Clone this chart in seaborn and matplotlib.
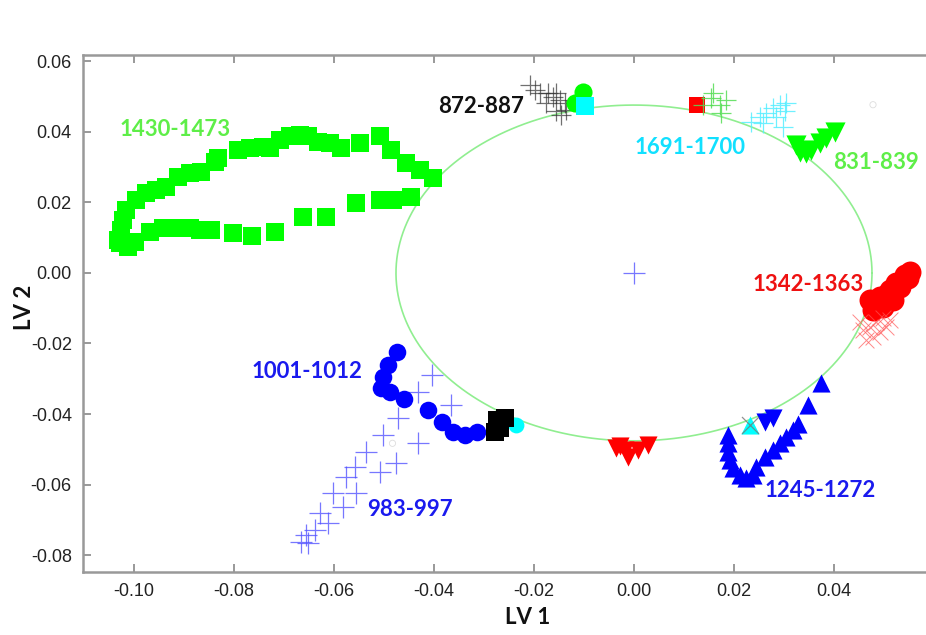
import numpy as np
import pandas as pd
import matplotlib
matplotlib.use("Agg")
import matplotlib.pyplot as plt
import seaborn as sns

# ---------------- data ----------------
# 1430-1473 : green squares
sq_green_x = [-0.1032, -0.1025, -0.1021, -0.1015, -0.0995, -0.0975, -0.0955, -0.0935, -0.0911,
              -0.0888, -0.0865, -0.0838, -0.0831, -0.0791, -0.0768, -0.0741, -0.0728, -0.0708,
              -0.0688, -0.0668, -0.0651, -0.0631, -0.0608, -0.0585, -0.0548, -0.0508, -0.0485,
              -0.0455, -0.0428, -0.0401,
              -0.1028, -0.1011, -0.0998, -0.0968, -0.0941, -0.0915, -0.0888, -0.0868, -0.0845,
              -0.0801, -0.0763, -0.0718, -0.0661, -0.0615, -0.0556, -0.0508, -0.0481, -0.0445]
sq_green_y = [0.0094, 0.0122, 0.0150, 0.0179, 0.0207, 0.0227, 0.0235, 0.0245, 0.0273,
              0.0284, 0.0287, 0.0316, 0.0325, 0.0349, 0.0354, 0.0358, 0.0354, 0.0377,
              0.0387, 0.0391, 0.0387, 0.0372, 0.0368, 0.0354, 0.0368, 0.0387, 0.0349,
              0.0311, 0.0292, 0.0269,
              0.0085, 0.0075, 0.0089, 0.0117, 0.0127, 0.0127, 0.0127, 0.0122, 0.0122,
              0.0113, 0.0105, 0.0117, 0.0160, 0.0160, 0.0199, 0.0207, 0.0207, 0.0216]

# 1001-1012 : blue circles
ci_blue_x = [-0.0473, -0.0491, -0.0501, -0.0505, -0.0488, -0.0459, -0.0411, -0.0383, -0.0361, -0.0337, -0.0313]
ci_blue_y = [-0.0223, -0.0261, -0.0294, -0.0327, -0.0337, -0.0358, -0.0389, -0.0422, -0.0450, -0.0460, -0.0450]

# 983-997 : blue plus
pl_blue_x = [-0.0403, -0.0431, -0.0365, -0.0471, -0.0501, -0.0431, -0.0535, -0.0475, -0.0508, -0.0558,
             -0.0575, -0.0555, -0.0601, -0.0581, -0.0628, -0.0611, -0.0638, -0.0655, -0.0665, -0.0651, 0.0]
pl_blue_y = [-0.0289, -0.0337, -0.0374, -0.0412, -0.0460, -0.0483, -0.0507, -0.0540, -0.0564, -0.0549,
             -0.0578, -0.0625, -0.0625, -0.0663, -0.0682, -0.0710, -0.0729, -0.0743, -0.0762, -0.0767, 0.0]

# black squares near the circle (bottom left)
sq_black_x = [-0.0274, -0.0258, -0.0268, -0.0278]
sq_black_y = [-0.0417, -0.0411, -0.0440, -0.0451]

# cyan circle / square / triangle
ci_cyan_x = [-0.0235]
ci_cyan_y = [-0.0431]
sq_cyan_x = [-0.0098]
sq_cyan_y = [0.0472]
tu_cyan_x = [0.0232]
tu_cyan_y = [-0.0431]

# 872-887 : black plus
pl_black_x = [-0.0208, -0.0198, -0.0188, -0.0171, -0.0161, -0.0155, -0.0148, -0.0175, -0.0138, -0.0155, -0.0145, -0.0135]
pl_black_y = [0.0533, 0.0519, 0.0510, 0.0510, 0.0500, 0.0510, 0.0491, 0.0481, 0.0481, 0.0458, 0.0448, 0.0462]

# green circles near top
ci_green_x = [-0.0102, -0.0118]
ci_green_y = [0.0513, 0.0482]

# red square + green plus near top
sq_red_x = [0.0127]
sq_red_y = [0.0477]
pl_green_x = [0.0139, 0.0155, 0.0159, 0.0172, 0.0185, 0.0175]
pl_green_y = [0.0477, 0.0496, 0.0511, 0.0477, 0.0491, 0.0453]

# 1691-1700 : cyan plus
pl_cyan_x = [0.0235, 0.0252, 0.0259, 0.0265, 0.0279, 0.0285, 0.0292, 0.0302, 0.0305, 0.0299]
pl_cyan_y = [0.0429, 0.0443, 0.0425, 0.0453, 0.0467, 0.0443, 0.0477, 0.0458, 0.0481, 0.0415]

# 831-839 : green down triangles
td_green_x = [0.0332, 0.0345, 0.0355, 0.0372, 0.0385, 0.0402, 0.0325]
td_green_y = [0.0344, 0.0340, 0.0349, 0.0368, 0.0382, 0.0401, 0.0363]

# 1342-1363 : red circles
ci_red_x = [0.0472, 0.0479, 0.0492, 0.0499, 0.0505, 0.0512, 0.0519, 0.0525, 0.0532, 0.0542, 0.0548, 0.0552, 0.0486]
ci_red_y = [-0.0077, -0.0105, -0.0067, -0.0096, -0.0062, -0.0048, -0.0077, -0.0029, -0.0040, -0.0006, -0.0015, 0.0004, -0.0085]

# red x markers
x_red_x = [0.0459, 0.0472, 0.0485, 0.0499, 0.0512, 0.0479, 0.0465, 0.0492, 0.0452, 0.0505]
x_red_y = [-0.0162, -0.0152, -0.0138, -0.0129, -0.0133, -0.0181, -0.0190, -0.0166, -0.0138, -0.0152]

# red down triangles at bottom
td_red_x = [-0.0035, -0.0018, -0.0011, 0.0009, 0.0029, -0.0028]
td_red_y = [-0.0497, -0.0502, -0.0521, -0.0502, -0.0488, -0.0491]

# 1245-1272 : blue up triangles
tu_blue_x = [0.0189, 0.0189, 0.0189, 0.0192, 0.0199, 0.0212, 0.0225, 0.0239, 0.0245, 0.0262,
             0.0279, 0.0292, 0.0305, 0.0319, 0.0329, 0.0349, 0.0375]
tu_blue_y = [-0.0460, -0.0483, -0.0507, -0.0530, -0.0554, -0.0573, -0.0582, -0.0573, -0.0549, -0.0521,
             -0.0502, -0.0483, -0.0464, -0.0445, -0.0427, -0.0374, -0.0313]
td_blue_x = [0.0262, 0.0279]
td_blue_y = [-0.0422, -0.0412]

# grey x near the cyan triangle, tiny hollow circles
x_grey_x = [0.0232]
x_grey_y = [-0.0431]
ci_small_x = [0.0478, -0.0483]
ci_small_y = [0.0477, -0.0483]

# correlation-type circle radius
circle_radius = 0.0476

# labels
label_texts = ["1430-1473", "872-887", "1691-1700", "831-839", "1342-1363", "1001-1012", "983-997", "1245-1272"]
label_x = [-0.1028, -0.0392, 0.0002, 0.0398, 0.0238, -0.0764, -0.0534, 0.0262]
label_y = [0.0406, 0.0472, 0.0355, 0.0312, -0.0034, -0.0280, -0.0670, -0.0616]
label_colors = ["#5EEE48", "#111111", "#11E0FF", "#5EEE48", "#EE1111", "#1A1AEE", "#1A1AEE", "#1A1AEE"]

x_ticks = [-0.10, -0.08, -0.06, -0.04, -0.02, 0.00, 0.02, 0.04]
y_ticks = [-0.08, -0.06, -0.04, -0.02, 0.00, 0.02, 0.04, 0.06]

# ---------------- plotting ----------------
sns.set_theme(style="white")
plt.rcParams["font.family"] = ["Liberation Sans", "DejaVu Sans"]
plt.rcParams["axes.unicode_minus"] = False

fig = plt.figure(figsize=(9.26, 6.35), dpi=100)
ax = fig.add_axes([0.0896, 0.0997, 0.9104, 0.8137])

t = np.linspace(0, 2 * np.pi, 400)
ax.plot(circle_radius * np.cos(t), circle_radius * np.sin(t), color="#90EE90", lw=1.2, zorder=1)


def scat(xs, ys, marker, color, s, lw=0, alpha=1.0, z=3, ec=None):
    df = pd.DataFrame({"x": xs, "y": ys})
    kw = dict(data=df, x="x", y="y", marker=marker, s=s, color=color, ax=ax,
              alpha=alpha, zorder=z, legend=False, linewidth=lw)
    if marker not in ("+", "x"):
        kw["edgecolor"] = ec if ec is not None else color
    sns.scatterplot(**kw)


scat(sq_green_x, sq_green_y, "s", "#00FF00", 155)
scat(pl_blue_x, pl_blue_y, "+", "#5555FF", 260, lw=0.9, alpha=0.8)
scat(ci_blue_x, ci_blue_y, "o", "#0000FF", 160)
scat(ci_cyan_x, ci_cyan_y, "o", "#00FFFF", 130)
scat(sq_black_x, sq_black_y, "s", "#000000", 150)
scat(pl_black_x, pl_black_y, "+", "#333333", 200, lw=0.9, alpha=0.7)
scat(ci_green_x, ci_green_y, "o", "#00FF00", 170)
scat(sq_cyan_x, sq_cyan_y, "s", "#00FFFF", 150)
scat(sq_red_x, sq_red_y, "s", "#FF0000", 130)
scat(pl_green_x, pl_green_y, "+", "#55DD55", 200, lw=0.9, alpha=0.85)
scat(pl_cyan_x, pl_cyan_y, "+", "#55EEFF", 200, lw=0.9, alpha=0.85)
scat(td_green_x, td_green_y, "v", "#00FF00", 210)
scat(ci_red_x, ci_red_y, "o", "#FF0000", 250)
scat(x_red_x, x_red_y, "x", "#FF5555", 130, lw=0.7, alpha=0.7)
scat(td_red_x, td_red_y, "v", "#FF0000", 170)
scat(tu_blue_x, tu_blue_y, "^", "#0000FF", 170)
scat(td_blue_x, td_blue_y, "v", "#0000FF", 170)
scat(tu_cyan_x, tu_cyan_y, "^", "#00FFFF", 170)
scat(x_grey_x, x_grey_y, "x", "#777777", 150, lw=0.9, alpha=0.8)
scat(ci_small_x, ci_small_y, "o", "none", 20, lw=0.6, ec="#DDDDDD")

for txt, lx, ly, c in zip(label_texts, label_x, label_y, label_colors):
    ax.text(lx, ly, txt, color=c, fontsize=16, fontweight="bold", ha="left", va="center",
            family=["Lato", "DejaVu Sans"], zorder=5)

ax.set_xlim(-0.1102, 0.0584)
ax.set_ylim(-0.0847, 0.0618)
ax.set_xticks(x_ticks)
ax.set_yticks(y_ticks)
ax.set_xticklabels([f"{v:.2f}" for v in x_ticks])
ax.set_yticklabels([f"{v:.2f}" for v in y_ticks])
ax.tick_params(axis="both", direction="in", length=6, width=1.2, color="#888888",
               labelsize=13, labelcolor="#222222", top=True, bottom=True, left=True, right=False,
               labeltop=False, pad=8)

for side in ["left", "bottom", "top"]:
    ax.spines[side].set_color("#999999")
    ax.spines[side].set_linewidth(1.8)
ax.spines["right"].set_visible(False)

ax.set_xlabel("LV 1", fontsize=16, fontweight="bold", family=["Lato", "DejaVu Sans"], color="#111111")
ax.set_ylabel("LV 2", fontsize=16, fontweight="bold", family=["Lato", "DejaVu Sans"], color="#111111")
ax.xaxis.set_label_coords(0.527, -0.068)
ax.yaxis.set_label_coords(-0.057, 0.512)
ax.grid(False)

fig.savefig("out.png", dpi=100)
